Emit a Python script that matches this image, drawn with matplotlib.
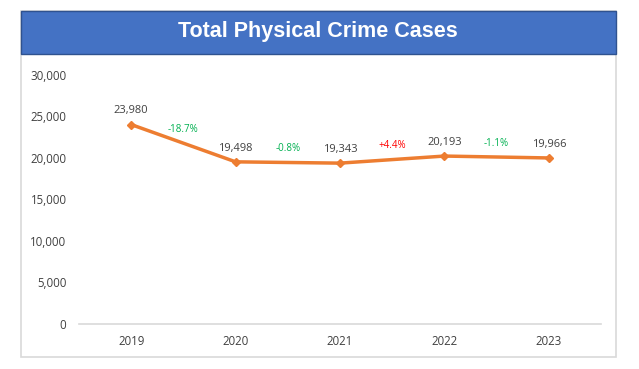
import matplotlib
matplotlib.use("Agg")
import matplotlib.pyplot as plt
from matplotlib.patches import Rectangle

years = ["2019", "2020", "2021", "2022", "2023"]
cases = [23980, 19498, 19343, 20193, 19966]
pct_labels = ["-18.7%", "-0.8%", "+4.4%", "-1.1%"]
pct_colors = ["#00B050", "#00B050", "#FF0000", "#00B050"]
yticks = [0, 5000, 10000, 15000, 20000, 25000, 30000]

W, H = 639, 369
fig = plt.figure(figsize=(W / 100, H / 100), dpi=100)
fig.patch.set_facecolor("white")

# outer box
bx0, bx1 = 20.5 / W, 615.5 / W
by0, by1 = (H - 357) / H, (H - 11) / H
fig.add_artist(Rectangle((bx0, by0), bx1 - bx0, by1 - by0, transform=fig.transFigure,
                         facecolor="white", edgecolor="#D9D9D9", lw=1.2, zorder=0))
# title band
band_y0 = (H - 54) / H
fig.add_artist(Rectangle((bx0, band_y0), bx1 - bx0, by1 - band_y0, transform=fig.transFigure,
                         facecolor="#4472C4", edgecolor="#2F528F", lw=1.0, zorder=1))
fig.text((bx0 + bx1) / 2, (band_y0 + by1) / 2 + 0.003, "Total Physical Crime Cases",
         ha="center", va="center", color="white", fontsize=15.5, fontweight="bold",
         family="Liberation Sans", zorder=2)

ax = fig.add_axes([79 / W, (H - 324) / H, 522 / W, 249.5 / H])
ax.set_facecolor("none")
x = list(range(len(years)))
ax.plot(x, cases, color="#ED7D31", lw=2.5, marker="D", ms=4.5, zorder=3,
        solid_capstyle="round")
ax.set_xlim(-0.5, len(years) - 0.5)
ax.set_ylim(0, 30000)
ax.set_yticks(yticks)
ax.set_yticklabels([f"{v:,}" for v in yticks])
ax.set_xticks(x)
ax.set_xticklabels(years)
for s in ["top", "right", "left"]:
    ax.spines[s].set_visible(False)
ax.spines["bottom"].set_color("#D9D9D9")
ax.spines["bottom"].set_linewidth(1.2)
ax.tick_params(axis="both", length=0, labelsize=8.3, labelcolor="#404040")
ax.tick_params(axis="y", pad=9)
ax.tick_params(axis="x", pad=8)
for lab in ax.get_xticklabels() + ax.get_yticklabels():
    lab.set_family("Open Sans")

for xi, v in zip(x, cases):
    ax.annotate(f"{v:,}", (xi, v), xytext=(0, 6), textcoords="offset points",
                ha="center", va="bottom", fontsize=8, color="#404040", family="Open Sans")

for i, (lab, col) in enumerate(zip(pct_labels, pct_colors)):
    xm = i + 0.5
    ym = (cases[i] + cases[i + 1]) / 2
    ax.annotate(lab, (xm, ym), xytext=(0, 10), textcoords="offset points",
                ha="center", va="center", fontsize=7, color=col, family="Open Sans")

fig.savefig("out.png", dpi=100, facecolor="white")
